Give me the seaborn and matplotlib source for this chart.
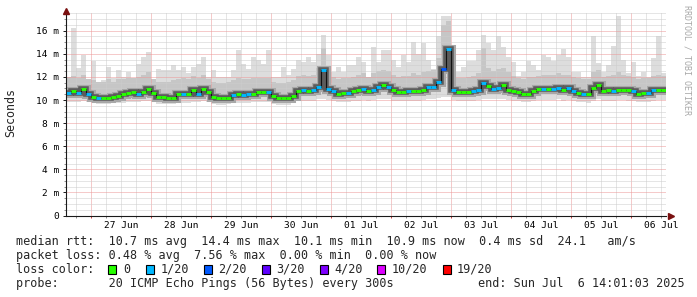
import numpy as np
import pandas as pd
import matplotlib
matplotlib.use("Agg")
import matplotlib.pyplot as plt
from matplotlib.patches import Rectangle
from matplotlib.ticker import FixedLocator, FixedFormatter, NullFormatter, MultipleLocator
import seaborn as sns

# ---------------- data (2-hour bins, graph start = 26 Jun 14:01:03) ----------------
median_ms = [
    10.63, 10.75, 10.63, 10.94, 10.55, 10.30, 10.16, 10.18, 10.20, 10.28,
    10.32, 10.48, 10.62, 10.68, 10.55, 10.68, 10.97, 10.60, 10.25, 10.22,
    10.19, 10.20, 10.54, 10.50, 10.54, 10.91, 10.48, 10.97, 10.68, 10.30,
    10.18, 10.16, 10.18, 10.45, 10.54, 10.45, 10.54, 10.54, 10.66, 10.68,
    10.68, 10.33, 10.19, 10.16, 10.16, 10.33, 10.77, 10.83, 10.77, 10.83,
    11.10, 12.60, 10.97, 10.75, 10.54, 10.60, 10.60, 10.77, 10.85, 10.97,
    10.77, 10.90, 11.10, 11.26, 11.10, 10.83, 10.68, 10.68, 10.75, 10.77,
    10.77, 10.90, 11.10, 11.10, 11.60, 12.70, 14.40, 10.85, 10.66, 10.66,
    10.72, 10.80, 10.90, 11.50, 11.20, 10.97, 11.05, 11.26, 10.90, 10.75,
    10.72, 10.54, 10.54, 10.77, 10.97, 10.97, 10.97, 10.97, 11.05, 10.83,
    11.05, 10.77, 10.63, 10.54, 10.48, 11.05, 11.26, 10.75, 10.83, 10.77,
    10.90, 10.90, 10.83, 10.75, 10.54, 10.60, 10.60, 10.83, 10.90, 10.90,
]
loss_count = [
    1, 0, 1, 0, 1, 0, 1, 0, 0, 0,
    0, 0, 0, 0, 1, 0, 0, 0, 0, 0,
    0, 0, 0, 1, 0, 0, 1, 0, 0, 0,
    0, 0, 0, 1, 0, 1, 1, 0, 0, 0,
    1, 0, 0, 0, 0, 0, 0, 1, 0, 1,
    1, 1, 1, 1, 0, 0, 1, 0, 0, 1,
    0, 1, 1, 0, 1, 0, 0, 0, 1, 0,
    0, 0, 1, 1, 1, 2, 1, 1, 0, 0,
    0, 1, 1, 1, 0, 1, 1, 0, 0, 0,
    0, 0, 0, 0, 0, 1, 0, 1, 1, 0,
    1, 1, 0, 1, 0, 0, 0, 0, 0, 1,
    0, 0, 0, 1, 0, 0, 1, 1, 0, 0,
]
rtt_max = [
    11.8, 16.2, 12.8, 13.9, 11.6, 13.4, 11.3, 11.7, 12.85, 11.9,
    12.56, 12.0, 12.4, 11.84, 13.1, 13.7, 14.15, 11.7, 12.7, 12.6,
    12.56, 13.0, 12.56, 12.85, 12.3, 12.9, 13.1, 13.7, 12.0, 12.56,
    12.0, 12.0, 12.0, 12.56, 14.36, 13.1, 12.7, 13.7, 13.5, 13.1,
    14.3, 12.0, 12.0, 12.85, 12.2, 12.7, 13.5, 13.3, 13.7, 13.3,
    14.0, 15.6, 13.9, 12.4, 12.85, 12.4, 13.0, 13.0, 13.7, 13.3,
    11.7, 14.6, 13.3, 14.3, 14.3, 13.5, 12.85, 13.9, 13.3, 15.0,
    14.0, 14.9, 13.5, 12.7, 15.5, 17.3, 17.3, 13.4, 12.4, 12.85,
    13.4, 13.4, 14.3, 15.6, 14.9, 14.3, 15.5, 14.6, 13.7, 13.3,
    12.1, 12.4, 13.4, 13.0, 12.56, 13.9, 13.7, 13.4, 13.9, 14.45,
    13.7, 12.4, 12.4, 12.0, 12.0, 15.5, 13.2, 12.4, 13.0, 14.7,
    17.3, 13.5, 12.3, 13.3, 12.1, 12.4, 12.0, 13.6, 15.5, 12.3,
]
rtt_p90 = [
    12.0, 12.1, 11.9, 12.2, 11.8, 11.7, 11.6, 11.6, 11.8, 11.6,
    11.8, 11.8, 11.9, 11.9, 12.0, 12.2, 12.4, 11.8, 11.6, 11.6,
    11.6, 11.7, 11.8, 11.9, 11.8, 12.1, 11.9, 12.2, 11.8, 11.6,
    11.5, 11.5, 11.6, 11.7, 11.9, 11.8, 11.8, 11.9, 11.9, 11.9,
    11.9, 11.6, 11.5, 11.5, 11.6, 11.7, 12.1, 12.2, 12.1, 12.2,
    12.8, 14.5, 12.8, 12.0, 11.8, 11.9, 11.9, 12.0, 12.2, 12.3,
    12.0, 12.3, 12.5, 12.6, 12.5, 12.2, 12.0, 12.1, 12.1, 12.3,
    12.2, 12.4, 12.5, 12.6, 13.6, 16.5, 16.8, 12.3, 11.9, 11.9,
    12.0, 12.1, 12.3, 14.5, 12.8, 12.5, 12.7, 12.8, 12.4, 12.1,
    11.9, 11.8, 12.0, 12.0, 12.1, 12.2, 12.2, 12.2, 12.3, 12.2,
    12.2, 12.0, 11.9, 11.8, 11.8, 12.4, 12.6, 12.0, 12.1, 12.2,
    12.4, 12.2, 12.1, 12.0, 11.8, 11.9, 11.9, 12.1, 12.2, 12.1,
]
rtt_min = [
    9.85, 9.85, 9.80, 9.90, 9.80, 9.70, 9.65, 9.65, 9.65, 9.70,
    9.70, 9.75, 9.80, 9.85, 9.85, 9.90, 9.95, 9.80, 9.65, 9.65,
    9.65, 9.65, 9.75, 9.75, 9.75, 9.85, 9.80, 9.90, 9.80, 9.65,
    9.60, 9.60, 9.65, 9.70, 9.75, 9.75, 9.75, 9.80, 9.80, 9.85,
    9.85, 9.65, 9.60, 9.60, 9.60, 9.70, 9.90, 9.95, 9.95, 9.95,
    10.05, 10.10, 10.00, 9.90, 9.80, 9.85, 9.85, 9.95, 9.95, 10.00,
    9.95, 10.00, 10.05, 10.10, 10.05, 9.95, 9.90, 9.90, 9.95, 9.95,
    9.95, 10.00, 10.05, 10.10, 10.20, 10.30, 10.30, 10.00, 9.90, 9.90,
    9.95, 9.95, 10.00, 10.10, 10.10, 10.05, 10.05, 10.10, 10.00, 9.95,
    9.90, 9.85, 9.85, 9.90, 10.00, 10.00, 10.00, 10.00, 10.05, 9.95,
    10.00, 9.95, 9.85, 9.80, 9.75, 9.95, 10.05, 9.90, 9.95, 9.95,
    10.00, 10.00, 9.95, 9.90, 9.80, 9.85, 9.85, 9.95, 10.00, 10.00,
]

day_labels = ["27 Jun", "28 Jun", "29 Jun", "30 Jun", "01 Jul",
              "02 Jul", "03 Jul", "04 Jul", "05 Jul", "06 Jul"]
y_tick_values = [0, 2, 4, 6, 8, 10, 12, 14, 16]
y_tick_labels = ["0", "2 m", "4 m", "6 m", "8 m", "10 m", "12 m", "14 m", "16 m"]

loss_levels = [0, 1, 2, 3, 4, 10, 19]
loss_labels = ["0", "1/20", "2/20", "3/20", "4/20", "10/20", "19/20"]
loss_colors = ["#26ff00", "#00b8ff", "#0059ff", "#5e00ff", "#7e00ff", "#dd00ff", "#ff0000"]

legend_line1 = "median rtt:  10.7 ms avg  14.4 ms max  10.1 ms min  10.9 ms now  0.4 ms sd  24.1   am/s"
legend_line2 = "packet loss: 0.48 % avg  7.56 % max  0.00 % min  0.00 % now"
legend_line3 = "loss color:"
legend_line4 = "probe:       20 ICMP Echo Pings (56 Bytes) every 300s"
legend_end = "end: Sun Jul  6 14:01:03 2025"

STEP_H = 2.0
SPAN_H = 240.0
FIRST_MIDNIGHT_H = 9.9825   # 26 Jun 14:01:03 -> 27 Jun 00:00

# ---------------- styling ----------------
sns.set_theme(style="white")
plt.rcParams["font.family"] = ["DejaVu Sans Mono", "DejaVu Sans"]
plt.rcParams["axes.unicode_minus"] = False

W, H = 697, 297
fig = plt.figure(figsize=(W / 100, H / 100), dpi=100)
fig.patch.set_facecolor("white")
y_zero_px, y_top_px = 215.5, 13.4
ax = fig.add_axes([66 / W, (H - y_zero_px) / H, 600 / W, (y_zero_px - y_top_px) / H])
ax.set_facecolor("white")

n = len(median_ms)
edges = np.arange(n + 1) * STEP_H
def ext(a):
    a = np.asarray(a, dtype=float)
    return np.append(a, a[-1])

df = pd.DataFrame({"t": edges, "median": ext(median_ms)})

# smoke
ax.fill_between(edges, ext(rtt_min), ext(rtt_max), step="post", color="#dddddd", lw=0, zorder=1)
ax.fill_between(edges, ext(median_ms), ext(rtt_p90), step="post", color="#c6c6c6", lw=0, zorder=1.1)

# darker smoke core around the median
for lw, col, z in [(6.5, "#a8a8a8", 2.6), (4.0, "#5c5c5c", 2.7)]:
    sns.lineplot(data=df, x="t", y="median", drawstyle="steps-post", color=col,
                 linewidth=lw, solid_capstyle="butt", solid_joinstyle="miter",
                 estimator=None, sort=False, legend=False, ax=ax, zorder=z)
sns.lineplot(data=df, x="t", y="median", drawstyle="steps-post", color="#111111",
             linewidth=0.8, estimator=None, sort=False, legend=False, ax=ax, zorder=4)

# median coloured by loss
def loss_color(c):
    idx = 0
    for i, lv in enumerate(loss_levels):
        if c >= lv:
            idx = i
    return loss_colors[idx]

seg_colors = [loss_color(c) for c in loss_count]
ax.hlines(median_ms, edges[:-1], edges[1:], colors=seg_colors, linewidth=2.1, zorder=5)

ax.set_xlim(0, SPAN_H)
ax.set_ylim(0, 17.5)
ax.set_xlabel("")
ax.set_ylabel("")

# x grid / ticks
midnights = FIRST_MIDNIGHT_H + 24 * np.arange(len(day_labels))
minor_pos, minor_lab = [], []
t = FIRST_MIDNIGHT_H - 6
while t < SPAN_H:
    if t > 0 and abs(((t - FIRST_MIDNIGHT_H) % 24)) > 1e-6:
        minor_pos.append(t)
        off = (t - FIRST_MIDNIGHT_H) % 24
        if abs(off - 12) < 1e-6:
            d = int(round((t - FIRST_MIDNIGHT_H - 12) / 24))
            minor_lab.append(day_labels[d])
        else:
            minor_lab.append("")
    t += 6
ax.xaxis.set_major_locator(FixedLocator(midnights))
ax.xaxis.set_major_formatter(NullFormatter())
ax.xaxis.set_minor_locator(FixedLocator(minor_pos))
ax.xaxis.set_minor_formatter(FixedFormatter(minor_lab))

ax.yaxis.set_major_locator(FixedLocator(y_tick_values))
ax.yaxis.set_major_formatter(FixedFormatter(y_tick_labels))
ax.yaxis.set_minor_locator(MultipleLocator(0.5))

ax.set_axisbelow(False)
ax.grid(which="major", axis="both", color="#ec9797", linestyle=(0, (1, 1)), linewidth=0.72, zorder=3)
ax.grid(which="minor", axis="both", color="#cdcdcd", linestyle=(0, (1, 1)), linewidth=0.72, zorder=3)

ax.tick_params(axis="x", which="major", bottom=True, length=1.6, width=0.72, color="#d04040")
ax.tick_params(axis="x", which="minor", bottom=True, length=1.6, width=0.72, color="#909090",
               labelcolor="black", labelsize=6.8, pad=2.2)
ax.tick_params(axis="y", which="major", left=True, length=2.2, width=0.72, color="#202020",
               labelcolor="black", labelsize=6.8, pad=2.6)
ax.tick_params(axis="y", which="minor", left=True, length=1.2, width=0.72, color="#909090")

for s in ["top", "right"]:
    ax.spines[s].set_visible(False)
for s in ["left", "bottom"]:
    ax.spines[s].set_color("#1a1a1a")
    ax.spines[s].set_linewidth(0.8)
    ax.spines[s].set_zorder(6)

# axis arrows
ax.plot([1.008], [0], marker=">", markersize=4, color="#7a1010", transform=ax.transAxes, clip_on=False, zorder=7)
ax.plot([0], [1.012], marker="^", markersize=4, color="#7a1010", transform=ax.transAxes, clip_on=False, zorder=7)

# labels around
fig.text(11 / W, 1 - 113 / H, "Seconds", rotation=90, ha="center", va="center", fontsize=8.4)
fig.text(687 / W, 1 - 60 / H, "RRDTOOL / TOBI OETIKER", rotation=-90, ha="center", va="center",
         fontsize=6.0, color="#a8a8a8")

# legend block
LEG_FS = 8.43
fig.text(16 / W, 1 - 241.5 / H, legend_line1, ha="left", va="center", fontsize=LEG_FS)
fig.text(16 / W, 1 - 255.5 / H, legend_line2, ha="left", va="center", fontsize=LEG_FS)
fig.text(16 / W, 1 - 269.5 / H, legend_line3, ha="left", va="center", fontsize=LEG_FS)
fig.text(16 / W, 1 - 283.5 / H, legend_line4, ha="left", va="center", fontsize=LEG_FS)
fig.text(478 / W, 1 - 283.5 / H, legend_end, ha="left", va="center", fontsize=LEG_FS)

box_x = [108, 146, 204, 261.5, 320, 377, 443]
lab_x = [123.7, 161, 218, 276, 334.7, 391.6, 457]
for bx, lx, col, lab in zip(box_x, lab_x, loss_colors, loss_labels):
    fig.add_artist(Rectangle((bx / W, 1 - 273.5 / H), 8 / W, 8.5 / H, transform=fig.transFigure,
                             facecolor=col, edgecolor="black", linewidth=0.8))
    fig.text(lx / W, 1 - 269.5 / H, lab, ha="left", va="center", fontsize=LEG_FS)

fig.savefig("out.png", dpi=100, facecolor="white")
